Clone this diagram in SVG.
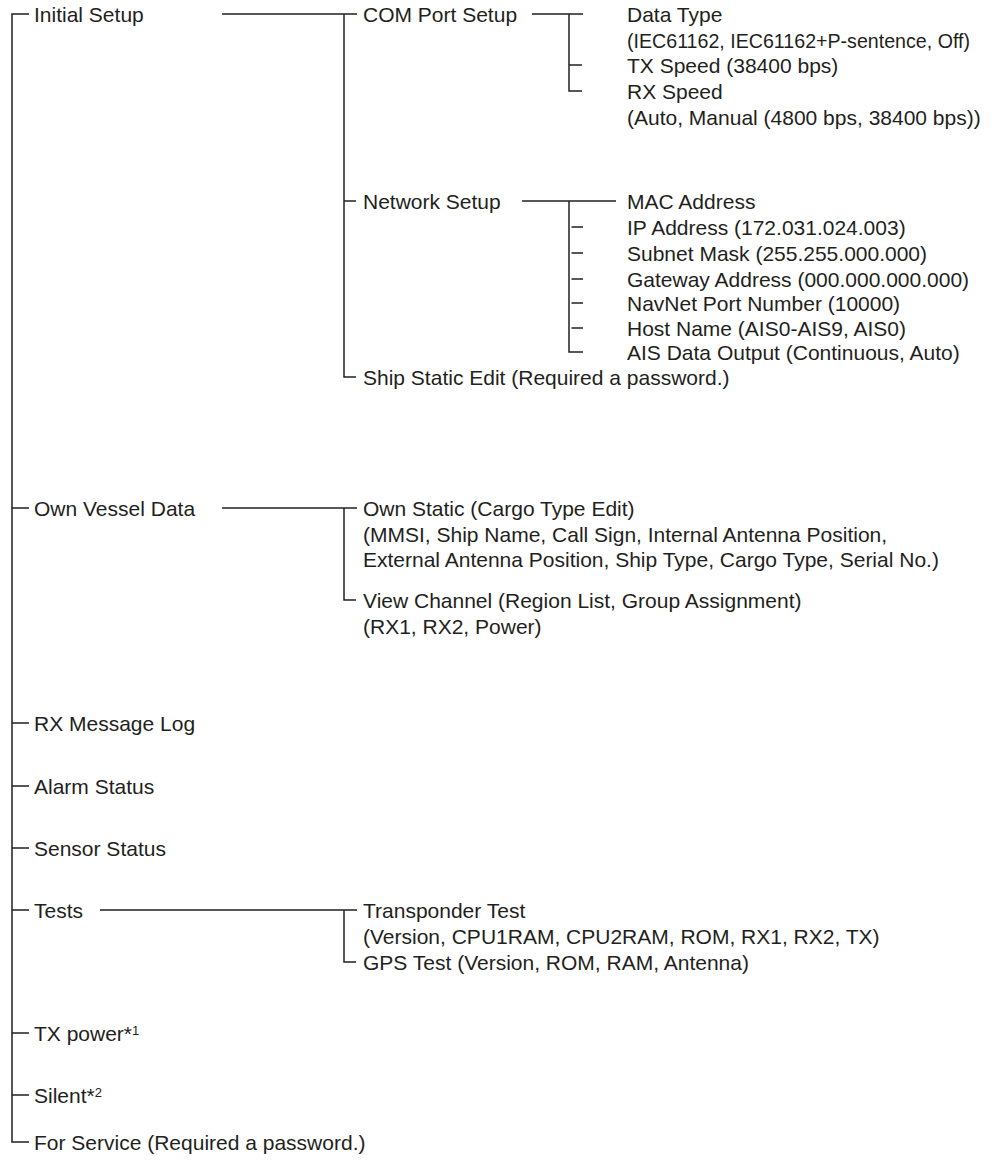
<svg xmlns="http://www.w3.org/2000/svg" width="996" height="1168" viewBox="0 0 996 1168">
<style>
text{font-family:"Liberation Sans",Arial,sans-serif;font-size:21px;fill:#231f20}
.c line,.c path{stroke:#231f20;stroke-width:1.5;fill:none}
.sup{font-size:13px}
</style>
<rect width="996" height="1168" fill="#fff"/>
<g class="c" id="connectors">
<path d="M29,14 H12 V1142 H29"/>
<line x1="12" y1="508" x2="29" y2="508"/>
<line x1="12" y1="723" x2="29" y2="723"/>
<line x1="12" y1="786" x2="29" y2="786"/>
<line x1="12" y1="848" x2="29" y2="848"/>
<line x1="12" y1="910" x2="29" y2="910"/>
<line x1="12" y1="1033" x2="29" y2="1033"/>
<line x1="12" y1="1095" x2="29" y2="1095"/>
<line x1="222" y1="14" x2="357" y2="14"/>
<path d="M344,14 V377 H356"/>
<line x1="344" y1="201" x2="356" y2="201"/>
<line x1="532" y1="14" x2="583" y2="14"/>
<path d="M569,14 V91 H582"/>
<line x1="569" y1="65" x2="582" y2="65"/>
<line x1="522" y1="201" x2="616" y2="201"/>
<path d="M569,201 V352 H583"/>
<line x1="571.5" y1="227" x2="583" y2="227"/>
<line x1="571.5" y1="253" x2="583" y2="253"/>
<line x1="571.5" y1="279" x2="583" y2="279"/>
<line x1="571.5" y1="303" x2="583" y2="303"/>
<line x1="571.5" y1="328" x2="583" y2="328"/>
<line x1="222" y1="508" x2="357" y2="508"/>
<path d="M344,508 V600 H356"/>
<line x1="100" y1="910" x2="357" y2="910"/>
<path d="M344,910 V962 H356"/>
</g>
<g id="initial-setup"><text x="34" y="21.5">Initial Setup</text></g>
<g id="com-port-setup"><text x="363" y="21.5">COM Port Setup</text></g>
<g id="data-type"><text x="627" y="21.5">Data Type</text><text x="627" y="47.5" textLength="343" lengthAdjust="spacingAndGlyphs">(IEC61162, IEC61162+P-sentence, Off)</text></g>
<g id="tx-speed"><text x="627" y="72.5">TX Speed (38400 bps)</text></g>
<g id="rx-speed"><text x="627" y="98.5">RX Speed</text><text x="627" y="124.5">(Auto, Manual (4800 bps, 38400 bps))</text></g>
<g id="network-setup"><text x="363" y="208.5">Network Setup</text></g>
<g id="mac"><text x="627" y="208.5">MAC Address</text></g>
<g id="ip"><text x="627" y="234.5">IP Address (172.031.024.003)</text></g>
<g id="subnet"><text x="627" y="260.5">Subnet Mask (255.255.000.000)</text></g>
<g id="gateway"><text x="627" y="286.5">Gateway Address (000.000.000.000)</text></g>
<g id="navnet"><text x="627" y="310.5">NavNet Port Number (10000)</text></g>
<g id="host"><text x="627" y="335.5">Host Name (AIS0-AIS9, AIS0)</text></g>
<g id="ais-output"><text x="627" y="359.5">AIS Data Output (Continuous, Auto)</text></g>
<g id="ship-static"><text x="363" y="384.5">Ship Static Edit (Required a password.)</text></g>
<g id="own-vessel"><text x="34" y="515.5">Own Vessel Data</text></g>
<g id="own-static"><text x="363" y="515.5">Own Static (Cargo Type Edit)</text><text x="363" y="541.5">(MMSI, Ship Name, Call Sign, Internal Antenna Position,</text><text x="363" y="566.5">External Antenna Position, Ship Type, Cargo Type, Serial No.)</text></g>
<g id="view-channel"><text x="363" y="607.5">View Channel (Region List, Group Assignment)</text><text x="363" y="633.5">(RX1, RX2, Power)</text></g>
<g id="rx-log"><text x="34" y="730.5">RX Message Log</text></g>
<g id="alarm"><text x="34" y="793.5">Alarm Status</text></g>
<g id="sensor"><text x="34" y="855.5">Sensor Status</text></g>
<g id="tests"><text x="34" y="917.5">Tests</text></g>
<g id="transponder"><text x="363" y="917.5">Transponder Test</text><text x="363" y="943.5">(Version, CPU1RAM, CPU2RAM, ROM, RX1, RX2, TX)</text></g>
<g id="gps"><text x="363" y="969.5">GPS Test (Version, ROM, RAM, Antenna)</text></g>
<g id="tx-power"><text x="34" y="1040.5">TX power*<tspan class="sup" dy="-6">1</tspan></text></g>
<g id="silent"><text x="34" y="1102.5">Silent*<tspan class="sup" dy="-6">2</tspan></text></g>
<g id="for-service"><text x="34" y="1149.5">For Service (Required a password.)</text></g>
</svg>
